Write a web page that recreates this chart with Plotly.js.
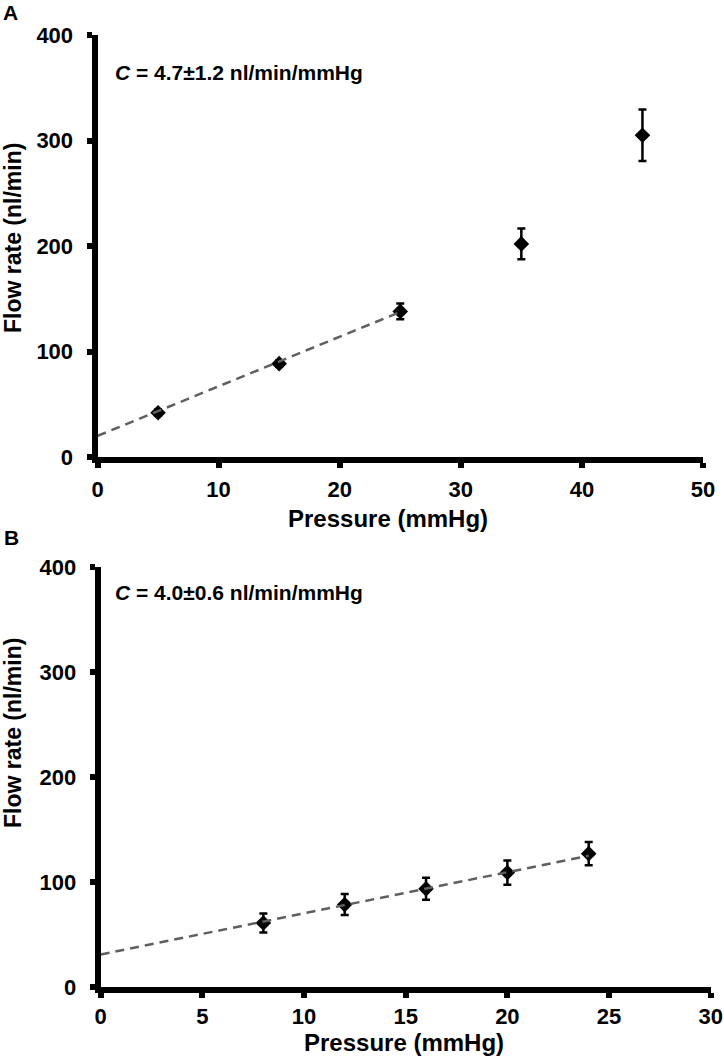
<!DOCTYPE html>
<html>
<head>
<meta charset="utf-8">
<script src="https://cdn.plot.ly/plotly-3.0.1.min.js"></script>
<style>html,body{margin:0;padding:0;background:#fff;}#chart{width:724px;height:1058px;}</style>
</head>
<body>
<div id="chart"></div>
<script>
// Panel A data
const pressureA = [5, 15, 25, 35, 45];
const flowA = [42, 88.5, 138, 202, 305];
const errA = [3, 3, 7.5, 14.5, 24.5];
const fitAx = [0, 25];
const fitAy = [20, 137.5];

// Panel B data
const pressureB = [8, 12, 16, 20, 24];
const flowB = [61, 78.5, 93.5, 109, 127];
const errB = [9, 10, 10.5, 11.5, 11];
const fitBx = [0, 24];
const fitBy = [31, 125];

const yTicks = [0, 100, 200, 300, 400];
const xTicksA = [0, 10, 20, 30, 40, 50];
const xTicksB = [0, 5, 10, 15, 20, 25, 30];

const labelA = 'A';
const labelB = 'B';
const capA = '<i>C</i> = 4.7±1.2 nl/min/mmHg';
const capB = '<i>C</i> = 4.0±0.6 nl/min/mmHg';
const xTitle = 'Pressure (mmHg)';
const yTitle = 'Flow rate (nl/min)';

const W = 724, H = 1058;
const FF = '"Liberation Sans", Arial, Helvetica, sans-serif';
const px = v => v / W;
const py = v => 1 - v / H;

function markerTrace(x, y, e, xa, ya) {
  return {
    x: x, y: y, xaxis: xa, yaxis: ya, type: 'scatter', mode: 'markers',
    marker: {symbol: 'diamond', size: 12, color: 'black'},
    error_y: {type: 'data', array: e, visible: true, color: 'black', thickness: 2.5, width: 4},
    showlegend: false, hoverinfo: 'skip'
  };
}
function fitTrace(x, y, xa, ya) {
  return {
    x: x, y: y, xaxis: xa, yaxis: ya, type: 'scatter', mode: 'lines',
    line: {color: '#5f5f5f', width: 2.5, dash: '9px,6px'},
    showlegend: false, hoverinfo: 'skip'
  };
}

const data = [
  markerTrace(pressureA, flowA, errA, 'x', 'y'),
  fitTrace(fitAx, fitAy, 'x', 'y'),
  markerTrace(pressureB, flowB, errB, 'x2', 'y2'),
  fitTrace(fitBx, fitBy, 'x2', 'y2')
];

const tickfont = {family: FF, size: 22, color: 'black', weight: 'bold'};
function axis(extra) {
  return Object.assign({
    showgrid: false, zeroline: false, showline: true, linecolor: 'black', linewidth: 6,
    ticks: 'outside', ticklen: 5, tickwidth: 6, tickcolor: 'black',
    tickfont: tickfont, fixedrange: true, tickmode: 'array'
  }, extra);
}

const layout = {
  width: W, height: H,
  margin: {l: 0, r: 0, t: 0, b: 0},
  paper_bgcolor: 'white', plot_bgcolor: 'white',
  showlegend: false,
  xaxis: axis({domain: [px(97.5), px(703)], range: [0, 50], tickvals: xTicksA, ticktext: xTicksA.map(String), anchor: 'y', ticklabelstandoff: 3}),
  yaxis: axis({domain: [py(457), py(35)], range: [0, 400], tickvals: yTicks, ticktext: yTicks.map(String), anchor: 'x', ticklabelstandoff: 9}),
  xaxis2: axis({domain: [px(100.7), px(710.7)], range: [0, 30], tickvals: xTicksB, ticktext: xTicksB.map(String), anchor: 'y2', ticklabelstandoff: 0}),
  yaxis2: axis({domain: [py(987), py(567)], range: [0, 400], tickvals: yTicks, ticktext: yTicks.map(String), anchor: 'x2', ticklabelstandoff: 9}),
  annotations: [
    {text: labelA, xref: 'paper', yref: 'paper', x: px(2), y: py(0), xanchor: 'left', yanchor: 'top', borderpad: 0, showarrow: false, font: {family: FF, size: 21, color: 'black', weight: 'bold'}},
    {text: labelB, xref: 'paper', yref: 'paper', x: px(2), y: py(537), xanchor: 'left', yanchor: 'middle', showarrow: false, font: {family: FF, size: 21, color: 'black', weight: 'bold'}},
    {text: capA, xref: 'paper', yref: 'paper', x: px(113), y: py(73), xanchor: 'left', yanchor: 'middle', showarrow: false, font: {family: FF, size: 21, color: 'black', weight: 'bold'}},
    {text: capB, xref: 'paper', yref: 'paper', x: px(113), y: py(592), xanchor: 'left', yanchor: 'middle', showarrow: false, font: {family: FF, size: 21, color: 'black', weight: 'bold'}},
    {text: yTitle, xref: 'paper', yref: 'paper', x: px(13), y: py(238), xanchor: 'center', yanchor: 'middle', textangle: -90, showarrow: false, font: {family: FF, size: 23, color: 'black', weight: 'bold'}},
    {text: yTitle, xref: 'paper', yref: 'paper', x: px(13), y: py(733), xanchor: 'center', yanchor: 'middle', textangle: -90, showarrow: false, font: {family: FF, size: 23, color: 'black', weight: 'bold'}},
    {text: xTitle, xref: 'paper', yref: 'paper', x: px(388), y: py(518), xanchor: 'center', yanchor: 'middle', borderpad: 0, showarrow: false, font: {family: FF, size: 24, color: 'black', weight: 'bold'}},
    {text: xTitle, xref: 'paper', yref: 'paper', x: px(403.5), y: py(1042.5), xanchor: 'center', yanchor: 'middle', borderpad: 0, showarrow: false, font: {family: FF, size: 24, color: 'black', weight: 'bold'}}
  ]
};

Plotly.newPlot('chart', data, layout, {staticPlot: true, displayModeBar: false});
</script>
</body>
</html>
